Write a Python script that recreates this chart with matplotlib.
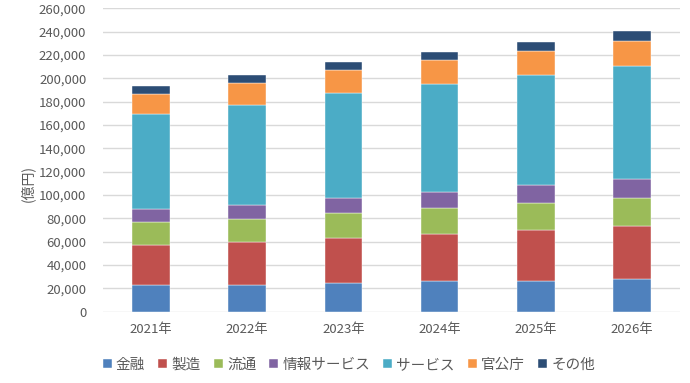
import matplotlib
matplotlib.use("Agg")
import matplotlib.pyplot as plt
import numpy as np

plt.rcParams['font.family'] = ['Noto Sans CJK JP', 'DejaVu Sans']

years = ['2021年', '2022年', '2023年', '2024年', '2025年', '2026年']
categories = ['金融', '製造', '流通', '情報サービス', 'サービス', '官公庁', 'その他']

# values in 億円
kinyu    = [22900, 23100, 24300, 26300, 26600, 28000]
seizo    = [34300, 36400, 38600, 40300, 43400, 45200]
ryutsu   = [19400, 19700, 21400, 22500, 23200, 24000]
joho     = [11200, 12300, 12900, 13800, 15100, 16500]
service  = [81400, 85700, 90300, 92500, 94600, 97200]
kankocho = [17700, 18600, 19900, 20300, 20800, 21400]
sonota   = [6600, 6800, 6900, 7200, 7700, 8300]

series = [kinyu, seizo, ryutsu, joho, service, kankocho, sonota]
colors = ['#4F81BD', '#C0504D', '#9BBB59', '#8064A2', '#4BACC6', '#F79646', '#2C4D75']

fig = plt.figure(figsize=(6.9, 3.83), dpi=100)
ax = fig.add_axes([103/690, 1 - 311.7/383, 577/690, 303.3/383])

x = np.arange(len(years))
bottom = np.zeros(len(years))
for name, vals, c in zip(categories, series, colors):
    ax.bar(x, vals, 0.39, bottom=bottom, color=c, label=name,
           edgecolor='white', linewidth=0.3, zorder=3)
    bottom += np.array(vals)

ax.set_xlim(-0.5, 5.5)
ax.set_ylim(0, 260000)
ax.set_yticks(np.arange(0, 260001, 20000))
ax.set_yticklabels([f'{v:,}' for v in range(0, 260001, 20000)])
ax.set_xticks(x)
ax.set_xticklabels(years)
ax.grid(axis='y', color='#d9d9d9', linewidth=1, zorder=0)
for s in ax.spines.values():
    s.set_visible(False)
ax.tick_params(length=0, colors='#595959', labelsize=9.5)
ax.tick_params(axis='y', pad=12)
ax.tick_params(axis='x', pad=8)

fig.text(28/690, 1 - 183/383, '(億円)', rotation=90, ha='center', va='center',
         fontsize=10, color='#595959')

ax.legend(loc='center', bbox_to_anchor=(349/690, 1 - 365/383), bbox_transform=fig.transFigure,
          ncol=7, frameon=False, fontsize=10.5, labelcolor='#595959',
          handlelength=0.6, handleheight=0.6, handletextpad=0.3, columnspacing=0.9)

fig.savefig('out.png', dpi=100)
